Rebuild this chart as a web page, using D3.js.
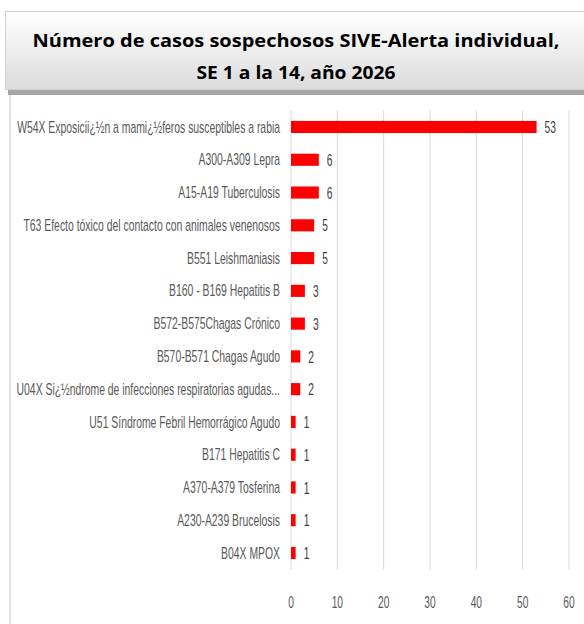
<!DOCTYPE html>
<html>
<head>
<meta charset="utf-8">
<script src="https://cdn.jsdelivr.net/npm/d3@7"></script>
<style>
  body { margin: 0; background: #ffffff; }
  svg { display: block; }
</style>
</head>
<body>
<div id="chart"></div>
<script>
/////////////////////////////////////////
//////////////// DATA ///////////////////
/////////////////////////////////////////

const categories = [
    "W54X Exposicii¿½n a mami¿½feros susceptibles a rabia",
    "A300-A309 Lepra",
    "A15-A19 Tuberculosis",
    "T63 Efecto tóxico del contacto con animales venenosos",
    "B551 Leishmaniasis",
    "B160 - B169 Hepatitis B",
    "B572-B575Chagas Crónico",
    "B570-B571 Chagas Agudo",
    "U04X Si¿½ndrome de infecciones respiratorias agudas...",
    "U51 Síndrome Febril Hemorrágico Agudo",
    "B171 Hepatitis C",
    "A370-A379 Tosferina",
    "A230-A239 Brucelosis",
    "B04X MPOX"
];
const casos = [53, 6, 6, 5, 5, 3, 3, 2, 2, 1, 1, 1, 1, 1];
const xTicks = [0, 10, 20, 30, 40, 50, 60];

const titleLines = [
    "Número de casos sospechosos SIVE-Alerta individual,",
    "SE 1 a la 14, año 2026"
];

/////////////////////////////////////////
/////////////// SETTINGS ////////////////
/////////////////////////////////////////

const WIDTH = 584, HEIGHT = 624;
const COLORS = {
    bar: "#ff0000",
    grid: "#d9d9d9",
    label: "#595959",
    value: "#404040",
    title: "#000000"
};
const LABEL_SQUEEZE = 0.65; //labels are horizontally condensed in the original
const NUM_SQUEEZE = 0.6;

const svg = d3.select("#chart").append("svg")
    .attr("width", WIDTH)
    .attr("height", HEIGHT);

const defs = svg.append("defs");
const grad = defs.append("linearGradient")
    .attr("id", "titleGrad")
    .attr("x1", 0).attr("y1", 0).attr("x2", 0).attr("y2", 1);
grad.append("stop").attr("offset", "0%").attr("stop-color", "#ffffff");
grad.append("stop").attr("offset", "100%").attr("stop-color", "#dcdcdc");

//chart panel left border
svg.append("line")
    .attr("x1", 10).attr("x2", 10)
    .attr("y1", 92).attr("y2", HEIGHT)
    .attr("stroke", "#d9d9d9")
    .attr("stroke-width", 1.5);

//title box with shadow
svg.append("rect")
    .attr("x", 8).attr("y", 14)
    .attr("width", WIDTH).attr("height", 81)
    .attr("fill", "#a6a6a6");
svg.append("rect")
    .attr("x", 5.5).attr("y", 11.5)
    .attr("width", WIDTH).attr("height", 78)
    .attr("fill", "url(#titleGrad)")
    .attr("stroke", "#d0d0d0");

const titleWidths = [527, 199]; //measured widths of the two title lines

svg.append("g")
    .attr("font-family", "'Open Sans', 'Noto Sans', sans-serif")
    .attr("font-weight", "bold")
    .attr("font-size", "18.5px")
    .attr("fill", COLORS.title)
    .attr("text-anchor", "middle")
    .selectAll("text")
    .data(titleLines)
    .join("text")
        .attr("x", 296)
        .attr("y", (d, i) => 47 + i * 32)
        .attr("textLength", (d, i) => titleWidths[i])
        .attr("lengthAdjust", "spacingAndGlyphs")
        .text(d => d);

/////////////////////////////////////////
//////////////// SCALES /////////////////
/////////////////////////////////////////

const margin = { left: 291, right: 15, top: 110.6, bottom: 54.6 };

const x = d3.scaleLinear()
    .domain([0, 60])
    .range([margin.left, WIDTH - margin.right]);

const y = d3.scaleBand()
    .domain(categories)
    .range([margin.top, HEIGHT - margin.bottom])
    .paddingInner(0.63)
    .paddingOuter(0.315);

//gridlines
svg.append("g")
    .selectAll("line")
    .data(xTicks)
    .join("line")
        .attr("x1", d => x(d)).attr("x2", d => x(d))
        .attr("y1", margin.top).attr("y2", HEIGHT - margin.bottom)
        .attr("stroke", COLORS.grid)
        .attr("stroke-width", 1);

//bars
svg.append("g")
    .selectAll("rect")
    .data(casos)
    .join("rect")
        .attr("x", x(0))
        .attr("y", (d, i) => y(categories[i]))
        .attr("width", d => x(d) - x(0))
        .attr("height", y.bandwidth())
        .attr("fill", COLORS.bar);

const narrow = "'Liberation Sans', Arial, sans-serif";

//category labels
svg.append("g")
    .attr("font-family", narrow)
    .attr("font-size", "16px")
    .attr("fill", COLORS.label)
    .attr("text-anchor", "end")
    .selectAll("text")
    .data(categories)
    .join("text")
        .attr("transform", d => `translate(280,${y(d) + y.bandwidth() / 2}) scale(${LABEL_SQUEEZE},1)`)
        .attr("dy", "0.35em")
        .text(d => d);

//value labels
svg.append("g")
    .attr("font-family", narrow)
    .attr("font-size", "17px")
    .attr("fill", COLORS.value)
    .selectAll("text")
    .data(casos)
    .join("text")
        .attr("transform", (d, i) => `translate(${x(d) + 8},${y(categories[i]) + y.bandwidth() / 2}) scale(${NUM_SQUEEZE},1)`)
        .attr("dy", "0.36em")
        .text(d => d);

//x axis tick labels
svg.append("g")
    .attr("font-family", narrow)
    .attr("font-size", "17px")
    .attr("fill", COLORS.label)
    .attr("text-anchor", "middle")
    .selectAll("text")
    .data(xTicks)
    .join("text")
        .attr("transform", d => `translate(${x(d)},602) scale(${NUM_SQUEEZE},1)`)
        .attr("dy", "0.35em")
        .text(d => d);
</script>
</body>
</html>
